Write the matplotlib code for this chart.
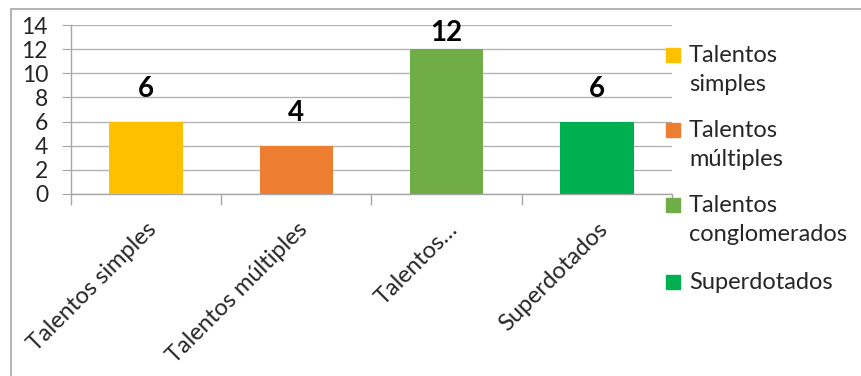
import matplotlib.pyplot as plt
from matplotlib.patches import Rectangle

plt.rcParams["font.family"] = ["Lato", "DejaVu Sans"]

categories = ["Talentos simples", "Talentos múltiples", "Talentos…", "Superdotados"]
legend_labels = ["Talentos\nsimples", "Talentos\nmúltiples", "Talentos\nconglomerados", "Superdotados"]
values = [6, 4, 12, 6]
colors = ["#FFC000", "#ED7D31", "#70AD47", "#00B050"]
y_ticks = [0, 2, 4, 6, 8, 10, 12, 14]

W, H = 862, 376
fig = plt.figure(figsize=(W / 100, H / 100), dpi=100)
ax = fig.add_axes([71 / W, 1 - 194 / H, (672 - 71) / W, (194 - 25) / H])

# outer chart frame (only left and top visible)
fig.patches.append(Rectangle((11 / W, -0.1), 1.2, 1 - 9 / H + 0.1,
                             transform=fig.transFigure, fill=False,
                             edgecolor="#a6a6a6", linewidth=1.2))

x = list(range(len(categories)))
bars = ax.bar(x, values, width=0.49, color=colors, zorder=3)

ax.set_xlim(-0.5, len(categories) - 0.5)
ax.set_ylim(0, 14)
ax.set_yticks(y_ticks)
ax.yaxis.grid(True, color="#b3b3b3", linewidth=1.0, zorder=0)
ax.set_axisbelow(True)

for s in ["top", "right"]:
    ax.spines[s].set_visible(False)
for s in ["left", "bottom"]:
    ax.spines[s].set_color("#a6a6a6")
    ax.spines[s].set_linewidth(1.0)

ax.tick_params(axis="y", length=6.5, color="#a6a6a6", labelsize=16.5,
               labelcolor="#262626", pad=10)
ax.set_xticks(x)
ax.set_xticklabels(categories, rotation=45, ha="right", rotation_mode="anchor",
                   fontsize=17, color="#262626")
ax.tick_params(axis="x", which="major", length=0, pad=18)
ax.set_xticks([i - 0.5 for i in range(len(categories) + 1)], minor=True)
ax.tick_params(axis="x", which="minor", length=8, color="#a6a6a6", width=1.0)

# data labels (Excel keeps the tallest one inside the plot area)
for xi, v in zip(x, values):
    ax.text(xi, min(v + 1.6, 14 - 1.7), str(v), ha="center", va="bottom",
            fontsize=20, fontweight="bold", color="black", clip_on=False)

# legend, drawn by hand so the square sits on the first text line
entry_y = [55, 130, 205, 282]
for ey, lab, col in zip(entry_y, legend_labels, colors):
    fig.patches.append(Rectangle((666 / W, 1 - (ey + 7) / H), 14 / W, 14 / H,
                                 transform=fig.transFigure, color=col))
    fig.text(689 / W, 1 - (ey - 10) / H, lab, ha="left", va="top",
             fontsize=17, color="#262626", linespacing=1.45)

fig.savefig("out.png", dpi=100)
